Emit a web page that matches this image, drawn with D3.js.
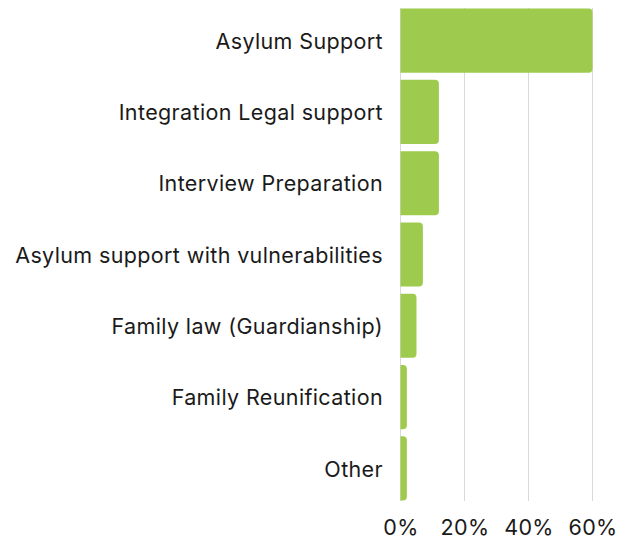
<!DOCTYPE html>
<html><head><meta charset="utf-8">
<script src="https://cdn.jsdelivr.net/npm/d3@7"></script>
<style>body{margin:0;background:#fff}svg{display:block}</style>
</head><body>
<svg id="c" width="630" height="540"></svg>
<script>
const categories = ["Asylum Support","Integration Legal support","Interview Preparation","Asylum support with vulnerabilities","Family law (Guardianship)","Family Reunification","Other"];
const values = [60, 12, 12, 7, 5, 2, 2];
const ticks = [0, 20, 40, 60];

const svg = d3.select("#c");
const font = "Inter, 'Noto Sans', sans-serif";
const x = d3.scaleLinear().domain([0, 60]).range([400.5, 592.5]);
const y = d3.scaleBand().domain(categories).range([5, 504]).paddingInner(0.1).paddingOuter(0.05);

// grid
svg.append("g").selectAll("line").data(ticks).join("line")
  .attr("x1", d => x(d)).attr("x2", d => x(d))
  .attr("y1", 8).attr("y2", 501)
  .attr("stroke", "#d9d9d9").attr("stroke-width", 1);

// bars with right rounded corners
const r = 4;
svg.append("g").selectAll("path").data(values).join("path")
  .attr("fill", "#9ecb4e")
  .attr("d", (d, i) => {
    const x0 = x(0), x1 = x(d), y0 = y(categories[i]), h = y.bandwidth();
    const rr = Math.min(r, (x1 - x0));
    return `M${x0},${y0}H${x1 - rr}Q${x1},${y0} ${x1},${y0 + rr}V${y0 + h - rr}Q${x1},${y0 + h} ${x1 - rr},${y0 + h}H${x0}Z`;
  });

// y labels
const ya = svg.append("g").attr("transform", "translate(383,0)")
  .call(d3.axisLeft(y).tickSize(0).tickPadding(0));
ya.select(".domain").remove();
ya.selectAll("text").attr("font-family", font).attr("font-size", 21.5)
  .attr("letter-spacing", "0.37px").attr("fill", "#1a1a1a").attr("dy", "0.38em");

// x labels
const xa = svg.append("g").attr("transform", "translate(0,535)")
  .call(d3.axisBottom(x).tickValues(ticks).tickFormat(d => d + "%").tickSize(0).tickPadding(0));
xa.select(".domain").remove();
xa.selectAll("text").attr("font-family", font).attr("font-size", 21.5)
  .attr("letter-spacing", "0.37px").attr("fill", "#1a1a1a").attr("y", 0).attr("dy", 0);
</script>
</body></html>
